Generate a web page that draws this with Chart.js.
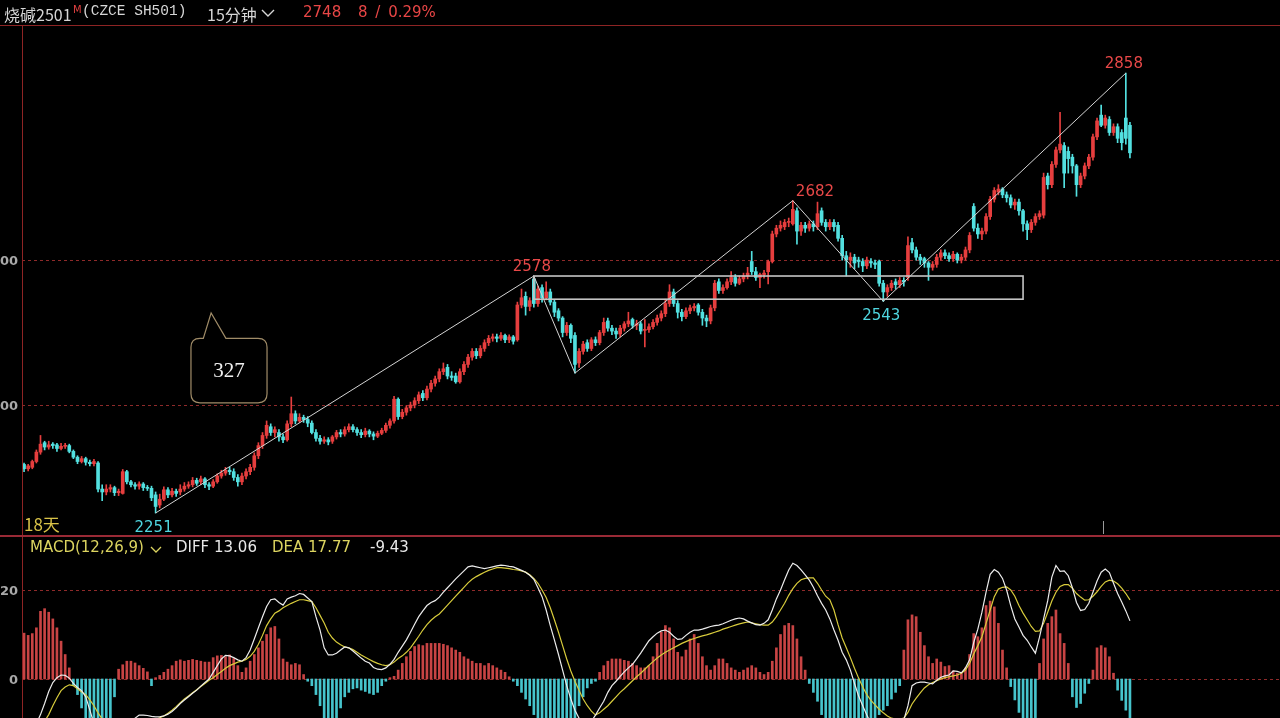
<!DOCTYPE html>
<html>
<head>
<meta charset="utf-8">
<script src="https://cdn.jsdelivr.net/npm/chart.js@4.4.1/dist/chart.umd.min.js"></script>
<style>
  body { margin: 0; background: #000; width: 1280px; height: 718px; overflow: hidden; position: relative; }
  canvas { position: absolute; left: 0; }
  #price { top: 0; }
  #macd { top: 535px; }
  .t { position: absolute; white-space: pre; line-height: 20px; }
  .line { position: absolute; background: #8e2424; z-index: 3; }
</style>
</head>
<body>
<canvas id="price" width="1280" height="535" style="width:1280px;height:535px"></canvas>
<canvas id="macd" width="1280" height="183" style="width:1280px;height:183px"></canvas>

<div class="line" style="left:0;top:25px;width:1280px;height:1px"></div>
<div class="line" style="left:22px;top:25px;width:1px;height:693px"></div>
<div class="line" style="left:0;top:535px;width:1280px;height:2px;background:#9a2a36"></div>

<div class="t" style="left:4px;top:2px;font:16px 'Noto Sans CJK SC';color:#d6d6d6">烧碱2501</div>
<div class="t" style="left:73px;top:4px;font:10px/12px 'DejaVu Sans';color:#e04040">M</div>
<div class="t" style="left:82px;top:3px;font:14.5px 'Liberation Mono';color:#d6d6d6">(CZCE SH501)</div>
<div class="t" style="left:207px;top:2px;font:16px 'Noto Sans CJK SC';color:#d6d6d6">15分钟</div>
<svg style="position:absolute;left:260px;top:8px" width="16" height="10"><polyline points="2,2 8,8 14,2" fill="none" stroke="#d6d6d6" stroke-width="1.4"/></svg>
<div class="t" style="left:303px;top:3px;font:15px 'DejaVu Sans';color:#e84646">2748</div>
<div class="t" style="left:358px;top:3px;font:15px 'DejaVu Sans';color:#e84646;word-spacing:3px">8 / 0.29%</div>

<div class="t" style="left:30px;top:538px;font:15px 'DejaVu Sans';color:#dcd460">MACD(12,26,9)</div>
<svg style="position:absolute;left:149px;top:545px" width="14" height="9"><polyline points="2,2 7,7 12,2" fill="none" stroke="#dcd460" stroke-width="1.3"/></svg>
<div class="t" style="left:176px;top:538px;font:15px 'DejaVu Sans';color:#e8e8e8">DIFF 13.06</div>
<div class="t" style="left:272px;top:538px;font:15px 'DejaVu Sans';color:#dcd460">DEA 17.77</div>
<div class="t" style="left:370px;top:538px;font:15px 'DejaVu Sans';color:#e8e8e8">-9.43</div>

<script>
// 15-minute bars, oldest first
const opens = [
  2318, 2312, 2314, 2322, 2335, 2348, 2342, 2346, 2345, 2340,
  2343, 2344, 2336, 2328, 2322, 2326, 2321, 2319, 2320, 2284,
  2280, 2284, 2286, 2279, 2278, 2308, 2294, 2290, 2288, 2291,
  2286, 2285, 2276, 2262, 2270, 2283, 2276, 2281, 2280, 2284,
  2288, 2290, 2296, 2294, 2298, 2290, 2288, 2294, 2302, 2306,
  2310, 2308, 2300, 2294, 2302, 2308, 2314, 2330, 2344, 2358,
  2370, 2362, 2362, 2356, 2352, 2374, 2388, 2378, 2383, 2380,
  2375, 2362, 2354, 2350, 2352, 2350, 2356, 2362, 2360, 2366,
  2370, 2366, 2362, 2359, 2364, 2360, 2357, 2361, 2365, 2372,
  2378, 2408, 2384, 2390, 2396, 2400, 2406, 2416, 2410, 2422,
  2430, 2436, 2446, 2452, 2440, 2440, 2432, 2446, 2456, 2466,
  2474, 2468, 2478, 2486, 2492, 2494, 2492, 2496, 2490, 2494,
  2490, 2538, 2550, 2536, 2574, 2540, 2562, 2548, 2556, 2542,
  2530, 2520, 2500, 2510, 2496, 2458, 2474, 2486, 2478, 2490,
  2486, 2500, 2516, 2506, 2502, 2498, 2506, 2512, 2518, 2510,
  2512, 2503, 2504, 2508, 2514, 2520, 2526, 2540, 2556, 2540,
  2528, 2522, 2530, 2534, 2538, 2528, 2520, 2516, 2534, 2570,
  2558, 2562, 2570, 2576, 2568, 2574, 2578, 2598, 2584, 2576,
  2580, 2584, 2598, 2636, 2644, 2646, 2652, 2650, 2668, 2640,
  2648, 2644, 2650, 2646, 2668, 2652, 2646, 2652, 2648, 2630,
  2606, 2600, 2604, 2600, 2598, 2592, 2598, 2596, 2598, 2568,
  2556, 2562, 2570, 2566, 2572, 2576, 2624, 2614, 2604, 2602,
  2596, 2590, 2594, 2604, 2610, 2606, 2602, 2608, 2600, 2604,
  2614, 2674, 2644, 2636, 2640, 2660, 2684, 2694, 2698, 2690,
  2686, 2676, 2680, 2668, 2650, 2642, 2652, 2660, 2662, 2716,
  2704, 2732, 2752, 2758, 2750, 2742, 2730, 2704, 2716, 2730,
  2742, 2770, 2800, 2786, 2794, 2776, 2784, 2776, 2796, 2786
];
const closes = [
  2312, 2316, 2322, 2335, 2346, 2342, 2345, 2344, 2340, 2343,
  2344, 2336, 2328, 2322, 2326, 2321, 2319, 2322, 2284, 2280,
  2284, 2286, 2279, 2281, 2308, 2294, 2290, 2288, 2291, 2286,
  2285, 2272, 2260, 2270, 2283, 2276, 2281, 2278, 2284, 2288,
  2290, 2296, 2292, 2298, 2290, 2288, 2294, 2302, 2306, 2310,
  2308, 2300, 2294, 2302, 2308, 2314, 2330, 2344, 2358, 2372,
  2362, 2366, 2356, 2352, 2374, 2388, 2378, 2383, 2380, 2375,
  2362, 2354, 2350, 2352, 2349, 2356, 2362, 2360, 2366, 2370,
  2366, 2362, 2359, 2364, 2360, 2357, 2361, 2365, 2372, 2378,
  2408, 2384, 2390, 2396, 2400, 2406, 2414, 2410, 2422, 2430,
  2436, 2446, 2450, 2440, 2438, 2432, 2446, 2456, 2466, 2474,
  2468, 2478, 2486, 2492, 2494, 2492, 2496, 2490, 2494, 2488,
  2538, 2548, 2536, 2544, 2540, 2560, 2548, 2556, 2542, 2528,
  2520, 2500, 2510, 2492, 2456, 2474, 2484, 2478, 2490, 2486,
  2500, 2514, 2506, 2502, 2498, 2506, 2512, 2516, 2510, 2512,
  2502, 2504, 2508, 2514, 2520, 2526, 2540, 2556, 2540, 2528,
  2522, 2530, 2534, 2536, 2528, 2520, 2516, 2534, 2568, 2558,
  2562, 2570, 2576, 2568, 2574, 2578, 2582, 2584, 2576, 2580,
  2582, 2598, 2636, 2644, 2648, 2652, 2652, 2670, 2640, 2648,
  2644, 2650, 2646, 2664, 2652, 2646, 2652, 2646, 2630, 2606,
  2600, 2604, 2596, 2598, 2592, 2600, 2596, 2594, 2568, 2556,
  2562, 2568, 2566, 2572, 2570, 2620, 2614, 2604, 2600, 2596,
  2590, 2594, 2604, 2610, 2606, 2602, 2608, 2600, 2604, 2614,
  2634, 2644, 2636, 2640, 2660, 2684, 2696, 2698, 2690, 2686,
  2676, 2680, 2668, 2650, 2642, 2652, 2660, 2664, 2714, 2704,
  2732, 2752, 2760, 2720, 2740, 2730, 2704, 2716, 2730, 2742,
  2770, 2792, 2786, 2796, 2776, 2784, 2768, 2762, 2768, 2748
];
const highs = [
  2320, 2318, 2324, 2338, 2358, 2350, 2350, 2348, 2347, 2347,
  2347, 2346, 2338, 2330, 2329, 2328, 2324, 2325, 2322, 2290,
  2290, 2290, 2288, 2284, 2311, 2310, 2296, 2293, 2294, 2293,
  2289, 2288, 2280, 2277, 2287, 2286, 2285, 2284, 2290, 2293,
  2294, 2300, 2299, 2302, 2300, 2293, 2297, 2305, 2310, 2314,
  2314, 2312, 2304, 2306, 2312, 2318, 2334, 2348, 2362, 2378,
  2374, 2370, 2366, 2360, 2378, 2411, 2392, 2388, 2386, 2384,
  2378, 2366, 2358, 2356, 2355, 2358, 2365, 2366, 2370, 2374,
  2373, 2369, 2366, 2368, 2366, 2363, 2364, 2368, 2375, 2381,
  2412, 2410, 2394, 2399, 2404, 2410, 2418, 2420, 2426, 2434,
  2440, 2450, 2458, 2456, 2446, 2444, 2450, 2460, 2470, 2478,
  2478, 2482, 2490, 2496, 2498, 2498, 2500, 2498, 2497, 2496,
  2542, 2560, 2556, 2548, 2578, 2564, 2566, 2570, 2560, 2545,
  2533, 2522, 2514, 2512, 2500, 2478, 2488, 2490, 2493, 2494,
  2503, 2520, 2520, 2510, 2506, 2510, 2515, 2528, 2520, 2517,
  2515, 2518, 2512, 2518, 2524, 2530, 2546, 2566, 2560, 2544,
  2532, 2534, 2538, 2540, 2540, 2532, 2524, 2538, 2572, 2574,
  2566, 2574, 2584, 2580, 2578, 2582, 2590, 2612, 2590, 2582,
  2586, 2600, 2640, 2648, 2654, 2656, 2658, 2682, 2672, 2652,
  2652, 2654, 2654, 2680, 2672, 2656, 2656, 2656, 2652, 2634,
  2612, 2610, 2608, 2604, 2602, 2604, 2602, 2600, 2600, 2572,
  2566, 2572, 2574, 2576, 2576, 2632, 2630, 2618, 2608, 2604,
  2598, 2598, 2608, 2614, 2614, 2610, 2612, 2610, 2608, 2618,
  2638, 2678, 2650, 2644, 2664, 2688, 2700, 2704, 2700, 2694,
  2690, 2684, 2684, 2670, 2654, 2656, 2664, 2668, 2720, 2720,
  2736, 2756, 2804, 2762, 2756, 2746, 2732, 2720, 2734, 2746,
  2774, 2796, 2814, 2800, 2798, 2788, 2788, 2780, 2858, 2790
];
const lows = [
  2308, 2309, 2312, 2320, 2332, 2338, 2339, 2340, 2336, 2338,
  2340, 2334, 2326, 2319, 2320, 2317, 2316, 2316, 2280, 2268,
  2276, 2280, 2275, 2275, 2277, 2291, 2287, 2284, 2284, 2282,
  2282, 2268, 2251, 2258, 2268, 2272, 2273, 2274, 2276, 2281,
  2285, 2287, 2289, 2290, 2286, 2283, 2286, 2292, 2299, 2303,
  2304, 2296, 2288, 2290, 2298, 2304, 2310, 2326, 2340, 2354,
  2358, 2356, 2350, 2348, 2350, 2370, 2374, 2376, 2376, 2370,
  2360, 2350, 2346, 2347, 2345, 2347, 2353, 2356, 2357, 2363,
  2363, 2358, 2355, 2356, 2356, 2352, 2355, 2359, 2362, 2368,
  2375, 2380, 2381, 2386, 2392, 2396, 2402, 2406, 2407, 2418,
  2426, 2432, 2442, 2436, 2434, 2430, 2430, 2442, 2452, 2462,
  2464, 2465, 2474, 2482, 2488, 2487, 2489, 2486, 2486, 2484,
  2488, 2534, 2524, 2530, 2535, 2536, 2542, 2545, 2538, 2522,
  2516, 2494, 2496, 2486, 2444, 2452, 2470, 2474, 2475, 2482,
  2483, 2496, 2502, 2497, 2492, 2494, 2502, 2508, 2506, 2504,
  2498, 2480, 2500, 2505, 2510, 2516, 2522, 2536, 2536, 2520,
  2516, 2519, 2526, 2530, 2524, 2510, 2508, 2512, 2530, 2554,
  2554, 2560, 2566, 2564, 2566, 2570, 2574, 2580, 2572, 2562,
  2575, 2567, 2596, 2632, 2640, 2642, 2646, 2648, 2622, 2634,
  2638, 2640, 2640, 2642, 2648, 2640, 2642, 2640, 2626, 2600,
  2578, 2590, 2588, 2590, 2584, 2588, 2590, 2588, 2564, 2543,
  2550, 2558, 2560, 2562, 2564, 2572, 2610, 2600, 2594, 2590,
  2572, 2586, 2590, 2600, 2602, 2598, 2598, 2596, 2596, 2600,
  2610, 2640, 2630, 2628, 2636, 2656, 2680, 2690, 2686, 2680,
  2672, 2670, 2662, 2640, 2628, 2638, 2648, 2656, 2658, 2698,
  2700, 2728, 2748, 2700, 2720, 2720, 2688, 2700, 2712, 2726,
  2738, 2766, 2784, 2782, 2772, 2772, 2762, 2752, 2760, 2741
];

// MACD(12,26,9) as drawn in the lower panel
const diff = [
  -14, -13, -11.5, -10, -8, -5.5, -2.8, -0.8, 0.3, 0.9,
  0.8, 0.2, -1.0, -1.9, -2.6, -4.0, -7.0, -10, -12, -13,
  -13.5, -13.5, -13, -12.5, -11.5, -10.5, -9.5, -8.8, -8.1, -8.1,
  -8.2, -8.4, -8.5, -8.5, -8.3, -7.9, -7.3, -6.5, -5.5, -4.7,
  -4.0, -3.2, -2.5, -1.6, -0.8, 0, 1.5, 3.0, 4.5, 5.3,
  5.2, 4.8, 4.3, 4.0, 4.8, 6.5, 9.0, 11.5, 14.0, 16.3,
  17.8, 18.0, 17.2, 16.6, 18.0, 18.4, 18.7, 19.2, 19.0, 18.2,
  17.4, 14.0, 11.0, 7.0, 5.4, 5.4, 5.8, 6.5, 7.2, 7.0,
  6.3, 5.5, 4.7, 4.0, 3.6, 2.6, 2.2, 2.1, 2.5, 3.3,
  4.4, 6.0, 7.4, 8.8, 10.5, 12.3, 14.0, 15.3, 16.5, 17.2,
  17.6, 18.4, 19.5, 20.5, 21.5, 22.5, 23.4, 24.3, 25.2, 25.4,
  25.2, 25.0, 24.8, 25.0, 25.2, 25.4, 25.6, 25.5, 25.3, 25.2,
  24.8, 24.4, 24.0, 23.3, 22.4, 20.5, 18.5, 15.5, 12.0, 8.8,
  5.5, 2.0, -1.5, -4.5, -7.0, -8.8, -10, -10.2, -9.5, -8.1,
  -6.5, -5.0, -3.0, -1.5, -0.5, 0.6, 1.6, 2.5, 3.3, 4.5,
  5.8, 7.2, 8.6, 9.5, 10.3, 10.8, 11.0, 10.5, 9.6, 8.9,
  9.0, 9.8, 10.5, 11.0, 11.0, 11.2, 11.5, 11.8, 12.0, 12.1,
  12.4, 12.8, 13.2, 13.5, 13.7, 13.5, 13.0, 12.6, 12.2, 12.1,
  12.5, 13.3, 15.5, 18.0, 20.0, 22.3, 24.5, 26.0, 25.5, 24.5,
  23.4, 22.2, 20.6, 18.7, 17.0, 15.5, 13.5, 11.0, 8.7, 6.0,
  4.3, 2.0, -1.0, -3.8, -6.0, -8.1, -10, -11.5, -12, -12.5,
  -12.5, -12, -11.5, -10.5, -9.2, -6, -1.5, -0.9, -0.7, -0.7,
  -0.9, -1.1, -0.3, 0.4, 0.7, 0.9, 1.8, 1.7, 1.4, 2.5,
  4.3, 8.2, 11.2, 15.0, 19.5, 23.5, 24.6, 24.0, 22.6, 20.0,
  16.5, 13.5, 11.7, 9.8, 8.7, 7.2, 5.8, 9.4, 13.5, 17.6,
  22.9, 25.5, 24.2, 24.3, 23.2, 20.5, 17.2, 15.4, 15.6, 17.0,
  19.5, 22.0, 24.0, 24.7, 23.9, 21.5, 19.2, 17.3, 15.3, 13.06
];
const dea = [
  -16, -15, -14, -12.5, -11, -9.5, -8, -6, -4.2, -2.6,
  -1.8, -1.3, -1.5, -2.2, -2.9, -3.5, -4.7, -6.0, -7.6, -9.0,
  -10.2, -11.0, -11.6, -11.8, -11.8, -11.6, -11.2, -10.8, -10.4, -10,
  -9.7, -9.4, -9.1, -8.7, -8.3, -7.7, -7.0, -6.2, -5.3, -4.5,
  -3.8, -3.1, -2.4, -1.7, -1.0, -0.3, 0.3, 1.0, 1.7, 2.4,
  3.0, 3.4, 3.8, 4.0, 4.4, 5.1, 6.2, 7.8, 9.8, 12.0,
  13.5, 14.8, 15.3, 16.0, 16.5, 17.0, 17.4, 17.8, 17.8, 17.6,
  17.4, 16.0, 14.3, 12.6, 10.5, 9.2, 8.3, 7.7, 7.2, 7.0,
  6.6, 6.0, 5.4, 4.9, 4.4, 3.9, 3.5, 3.2, 3.0, 3.2,
  3.8, 4.6, 5.2, 6.0, 7.0, 8.3, 9.6, 11.0, 12.2, 13.2,
  14.0, 14.6, 15.6, 16.6, 17.6, 18.6, 19.6, 20.6, 21.6, 22.4,
  23.0, 23.5, 24.0, 24.4, 24.7, 25.0, 25.0, 24.9, 24.8, 24.6,
  24.5, 24.3, 24.0, 23.4, 22.6, 21.5, 20.0, 18.3, 16.0, 13.3,
  10.5, 7.5, 4.5, 1.8, -0.5, -2.5, -4.5, -6.0, -7.2, -8.1,
  -7.6, -6.8, -6.0, -5.0, -4.0, -3.0, -2.2, -1.3, -0.4, 0.5,
  1.3, 2.2, 3.1, 3.9, 4.7, 5.4, 6.0, 6.5, 7.0, 7.5,
  8.0, 8.4, 8.8, 9.1, 9.4, 9.7, 9.9, 10.2, 10.5, 10.8,
  11.2, 11.5, 11.8, 12.1, 12.4, 12.6, 12.8, 12.6, 12.4, 12.2,
  12.1, 12.1, 12.8, 14.0, 15.5, 17.0, 18.8, 20.3, 21.5, 22.3,
  22.6, 22.7, 22.7, 21.5, 20.0, 18.6, 17.8, 15.5, 12.2, 9.2,
  7.0, 4.8, 2.4, 0.2, -1.8, -3.5, -4.8, -5.8, -6.8, -7.6,
  -8.3, -8.8, -9.0, -9.0, -8.8, -7.5, -5.6, -4.3, -3.1, -2.0,
  -1.3, -0.8, -0.4, 0, 0.3, 0.5, 0.7, 0.9, 1.3, 2.0,
  3.5, 5.6, 7.5, 9.5, 12.5, 15.5, 18.5, 20.2, 20.6, 20.7,
  20.0, 18.6, 16.5, 14.8, 13.3, 11.8, 10.7, 10.8, 12.5, 15.0,
  17.5, 19.5, 20.8, 21.2, 21.2, 20.4, 19.2, 18.4, 17.7, 17.8,
  18.6, 19.6, 20.8, 21.8, 22.2, 22.0, 21.4, 20.4, 19.2, 17.77
];
const macdHist = [
  10.3, 9.8, 10.2, 11.5, 15.2, 15.8, 15.0, 13.5, 11.5, 8.5,
  5.5, 2.5, -1.5, -3.5, -6.5, -9.5, -11, -12, -12, -11,
  -10, -9, -4, 2.2, 3.2, 4.0, 4.0, 3.6, 3.0, 2.4,
  1.6, -1.5, 0.3, 0.8, 1.5, 2.2, 3.0, 4.0, 4.3, 4.0,
  4.2, 4.4, 4.2, 4.0, 3.8, 3.8, 4.8, 5.2, 5.3, 5.0,
  5.4, 4.6, 3.0, 1.5, 2.5, 4.0, 5.5, 7.0, 8.5, 10.0,
  11.5, 11.8, 9.0, 4.5, 3.8, 3.2, 3.5, 3.2, 1.0, -0.5,
  -1.5, -3.5, -6, -9, -11, -12, -10, -6.5, -4, -3,
  -2.2, -2, -2.5, -2.8, -3.2, -3.5, -3, -1.5, -0.5, 0.3,
  0.6, 2, 3.5, 5, 6.2, 7.3, 7.7, 7.5, 8, 8,
  8, 8, 7.8, 7.5, 7, 6.5, 6, 5, 4.5, 4,
  3.5, 3.5, 3, 3.5, 3, 2.5, 2, 1.5, 0.5, -0.5,
  -1.5, -3, -4.5, -6, -8, -10, -12, -14, -15, -16,
  -16, -15, -13, -11, -9, -6, -4, -2, -1, -0.5,
  1.5, 3, 4, 4.5, 4.5, 4.5, 4.2, 4, 3.5, 3,
  2.5, 2.5, 3, 5, 8, 10.5, 12, 11.5, 9, 6,
  5, 6.5, 9, 10, 8, 5, 3, 2, 3, 4.5,
  4.5, 3.5, 2.5, 2, 1.5, 2, 2.5, 3, 2.5, 1.5,
  1, 1.5, 4, 7, 10, 12, 12.5, 12, 9, 5,
  2, -1, -3, -5, -8, -10, -12, -13, -14, -14,
  -13, -12, -11, -10.5, -10, -10, -9.5, -9, -8, -7,
  -6, -4.5, -3, -1.5, 6.5, 13.3, 14.4, 14.0, 10.5, 7.5,
  5.0, 3.5, 4.5, 3.8, 2.8, 3.0, 1.8, 1.3, 1.3, 2.5,
  5.5, 10.2, 9.5, 11.5, 16.5, 17.5, 16.2, 12.5, 6.5, 2.5,
  -1.7, -4.7, -7.5, -11, -13, -12, -9, 3.5, 9, 12.5,
  14, 15.5, 10.2, 8, 3.5, -4, -6.4, -5.5, -3.2, -1,
  2, 7, 7.5, 7, 5, 1.3, -2.5, -4.8, -7, -9.43
];

// drawn swing points (bar index, price) and the ones that carry a label
const pivotIdx = [32, 124, 134, 187, 209, 268];
const pivotPrice = [2251, 2578, 2444, 2682, 2543, 2858];
const labelled = [0, 1, 3, 4, 5];
// consolidation box: bars and prices
const boxBars = [124, 243];
const boxPrices = [2578, 2546];
const priceGrid = [2400, 2600];
const macdGrid = [0, 20];
const slots = 306;

const RED = '#e63e3e', CYAN = '#52e0e0';
const labels = Array.from({ length: slots }, (_, i) => i);
const up = closes.map((c, i) => c >= opens[i]);

const px = (c, i) => c.scales.x.getPixelForValue(i);
const py = (c, v) => c.scales.y.getPixelForValue(v);

function hLines(c, values) {
  const { ctx, chartArea: a } = c;
  ctx.save();
  ctx.strokeStyle = '#8e2a2a';
  ctx.lineWidth = 1;
  ctx.setLineDash([3, 3]);
  values.forEach(v => {
    const y = Math.round(py(c, v)) + 0.5;
    ctx.beginPath(); ctx.moveTo(a.left, y); ctx.lineTo(a.right, y); ctx.stroke();
  });
  ctx.setLineDash([]);
  ctx.fillStyle = '#a8a8a8';
  ctx.font = 'bold 13px "DejaVu Sans"';
  ctx.textAlign = 'right';
  values.forEach(v => ctx.fillText(String(v), 18, py(c, v) + 5));
  ctx.restore();
}

const priceDecor = {
  id: 'priceDecor',
  beforeDatasetsDraw(c) { hLines(c, priceGrid); },
  afterDatasetsDraw(c) {
    const { ctx, chartArea: a } = c;
    ctx.save();
    // zigzag through the swing points
    ctx.strokeStyle = '#d4d4d4';
    ctx.lineWidth = 1;
    ctx.beginPath();
    pivotIdx.forEach((i, k) => {
      const x = px(c, i), y = py(c, pivotPrice[k]);
      k ? ctx.lineTo(x, y) : ctx.moveTo(x, y);
    });
    ctx.stroke();

    // box
    ctx.strokeStyle = '#c4c4c4';
    ctx.lineWidth = 1.6;
    const bx0 = px(c, boxBars[0]), bx1 = px(c, boxBars[1]);
    const by0 = py(c, boxPrices[0]), by1 = py(c, boxPrices[1]);
    ctx.strokeRect(bx0, by0, bx1 - bx0, by1 - by0);

    // swing labels
    ctx.font = '15px "DejaVu Sans"';
    labelled.forEach(k => {
      const x = px(c, pivotIdx[k]), y = py(c, pivotPrice[k]);
      const isLow = k === 0 || k === 4;
      ctx.fillStyle = isLow ? '#4fd6e0' : '#e84848';
      if (k === 3) { ctx.textAlign = 'left'; ctx.fillText(String(pivotPrice[k]), x + 3, y - 5); }
      else { ctx.textAlign = 'center'; ctx.fillText(String(pivotPrice[k]), x - 2, isLow ? y + 19 : y - 5); }
    });

    // callout with the rise size
    const x0 = px(c, 40.6), x1 = px(c, 59.1), y0 = py(c, 2492), y1 = py(c, 2403);
    const tx = px(c, 45.5), ty = py(c, 2527), t0 = px(c, 43.6), t1 = px(c, 49.1);
    const r = 9;
    ctx.beginPath();
    ctx.moveTo(x0 + r, y0);
    ctx.lineTo(t0, y0); ctx.lineTo(tx, ty); ctx.lineTo(t1, y0);
    ctx.lineTo(x1 - r, y0); ctx.quadraticCurveTo(x1, y0, x1, y0 + r);
    ctx.lineTo(x1, y1 - r); ctx.quadraticCurveTo(x1, y1, x1 - r, y1);
    ctx.lineTo(x0 + r, y1); ctx.quadraticCurveTo(x0, y1, x0, y1 - r);
    ctx.lineTo(x0, y0 + r); ctx.quadraticCurveTo(x0, y0, x0 + r, y0);
    ctx.closePath();
    ctx.fillStyle = '#000';
    ctx.fill();
    ctx.strokeStyle = '#a08c68';
    ctx.lineWidth = 1.2;
    ctx.stroke();
    ctx.fillStyle = '#f0f0f0';
    ctx.font = '21px "Liberation Serif"';
    ctx.textAlign = 'center';
    ctx.textBaseline = 'middle';
    ctx.fillText('327', (x0 + x1) / 2, (y0 + y1) / 2 + 1);

    // period note and cursor tick
    ctx.textBaseline = 'alphabetic';
    ctx.textAlign = 'left';
    ctx.fillStyle = '#d8c248';
    ctx.font = '17px "Noto Sans CJK SC"';
    ctx.fillText('18天', 24, a.bottom - 3);
    ctx.strokeStyle = '#9a9a9a';
    ctx.lineWidth = 1;
    const tk = Math.round(px(c, 262.5)) + 0.5;
    ctx.beginPath(); ctx.moveTo(tk, a.bottom - 13); ctx.lineTo(tk, a.bottom); ctx.stroke();
    ctx.restore();
  }
};

new Chart(document.getElementById('price'), {
  type: 'bar',
  data: {
    labels,
    datasets: [
      {
        data: opens.map((o, i) => [o, closes[i]]),
        backgroundColor: up.map(u => u ? RED : CYAN),
        borderWidth: 0,
        barThickness: 3,
        minBarLength: 1,
        grouped: false,
        order: 0
      },
      {
        data: lows.map((l, i) => [l, highs[i]]),
        backgroundColor: up.map(u => u ? RED : CYAN),
        borderWidth: 0,
        barThickness: 1,
        grouped: false,
        order: 1
      }
    ]
  },
  options: {
    responsive: false,
    animation: false,
    devicePixelRatio: 1,
    events: [],
    layout: { padding: { top: 26, left: 22, right: 0, bottom: 1 } },
    scales: {
      x: { type: 'category', display: false, offset: true },
      y: { display: false, min: 2222, max: 2923 }
    },
    plugins: { legend: { display: false }, tooltip: { enabled: false } }
  },
  plugins: [priceDecor]
});

const macdDecor = {
  id: 'macdDecor',
  beforeDatasetsDraw(c) { hLines(c, macdGrid); }
};

new Chart(document.getElementById('macd'), {
  type: 'bar',
  data: {
    labels,
    datasets: [
      {
        type: 'line',
        data: diff,
        borderColor: '#ececec',
        borderWidth: 1.2,
        pointRadius: 0,
        tension: 0,
        order: 0
      },
      {
        type: 'line',
        data: dea,
        borderColor: '#d8cc3c',
        borderWidth: 1.2,
        pointRadius: 0,
        tension: 0,
        order: 1
      },
      {
        data: macdHist,
        backgroundColor: macdHist.map(v => v >= 0 ? '#c84444' : '#46c4cc'),
        borderWidth: 0,
        barThickness: 2,
        grouped: false,
        order: 2
      }
    ]
  },
  options: {
    responsive: false,
    animation: false,
    devicePixelRatio: 1,
    events: [],
    layout: { padding: { top: 2, left: 22, right: 0, bottom: 0 } },
    scales: {
      x: { type: 'category', display: false, offset: true },
      y: { display: false, min: -8.76, max: 31.9 }
    },
    plugins: { legend: { display: false }, tooltip: { enabled: false } }
  },
  plugins: [macdDecor]
});
</script>
</body>
</html>
